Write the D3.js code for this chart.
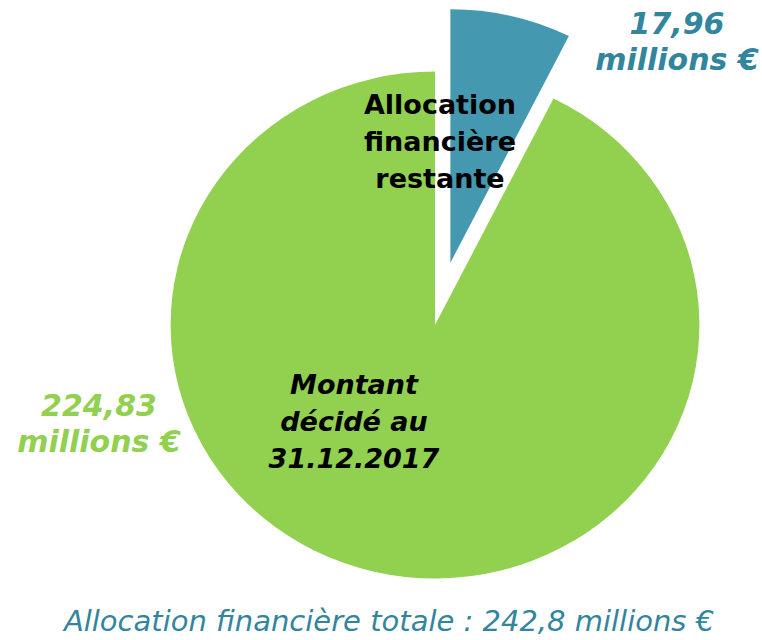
<!DOCTYPE html>
<html>
<head>
<meta charset="utf-8">
<script src="https://cdn.jsdelivr.net/npm/d3@7"></script>
<style>
  body { margin: 0; background: #fff; }
  text { font-family: "DejaVu Sans", Verdana, sans-serif; }
</style>
</head>
<body>
<script>
// data
var categories = ["Allocation financière restante", "Montant décidé au 31.12.2017"];
var values = [17.96, 224.83];
var valueLabels = [["17,96", "millions €"], ["224,83", "millions €"]];
var nameLines = [["Allocation", "financière", "restante"], ["Montant", "décidé au", "31.12.2017"]];
var totalLabel = "Allocation financière totale : 242,8 millions €";
var colors = ["#4498B0", "#92D050"];
var labelColors = ["#31859C", "#92D050"];

var width = 762, height = 640;
var cx = 435, cy = 325, r = 253.5, sx = 1.043; // the pie is a bit wider than tall
var explode = 64;

var svg = d3.select("body").append("svg")
  .attr("width", width)
  .attr("height", height);

var pie = d3.pie().sort(null).value(function (d) { return d; });
var arcs = pie(values);
var arc = d3.arc().innerRadius(0).outerRadius(r);

var g = svg.append("g")
  .attr("transform", "translate(" + cx + "," + cy + ") scale(" + sx + ",1)");

g.selectAll("path")
  .data(arcs)
  .enter()
  .append("path")
  .attr("d", arc)
  .attr("fill", function (d, i) { return colors[i]; })
  .attr("transform", function (d, i) {
    if (i != 0) return null; // only the small slice is pulled out
    var a = (d.startAngle + d.endAngle) / 2;
    return "translate(" + (Math.sin(a) * explode) + "," + (-Math.cos(a) * explode) + ")";
  });

// slice names, inside
var namePos = [[440, 114], [354, 394]];
nameLines.forEach(function (lines, i) {
  var t = svg.append("text")
    .attr("text-anchor", "middle")
    .attr("font-weight", "bold")
    .attr("font-style", i == 1 ? "italic" : "normal")
    .attr("font-size", 27)
    .attr("fill", "#000");
  lines.forEach(function (s, j) {
    t.append("tspan").attr("x", namePos[i][0]).attr("y", namePos[i][1] + j * 37).text(s);
  });
});

// values, outside
var valuePos = [[677, 34], [99, 416]];
valueLabels.forEach(function (lines, i) {
  var t = svg.append("text")
    .attr("text-anchor", "middle")
    .attr("font-weight", "bold")
    .attr("font-style", "italic")
    .attr("font-size", 30)
    .attr("fill", labelColors[i]);
  lines.forEach(function (s, j) {
    t.append("tspan").attr("x", valuePos[i][0]).attr("y", valuePos[i][1] + j * 36).text(s);
  });
});

svg.append("text")
  .attr("x", 389)
  .attr("y", 631)
  .attr("text-anchor", "middle")
  .attr("font-style", "italic")
  .attr("font-size", 29)
  .attr("fill", "#31859C")
  .text(totalLabel);
</script>
</body>
</html>
